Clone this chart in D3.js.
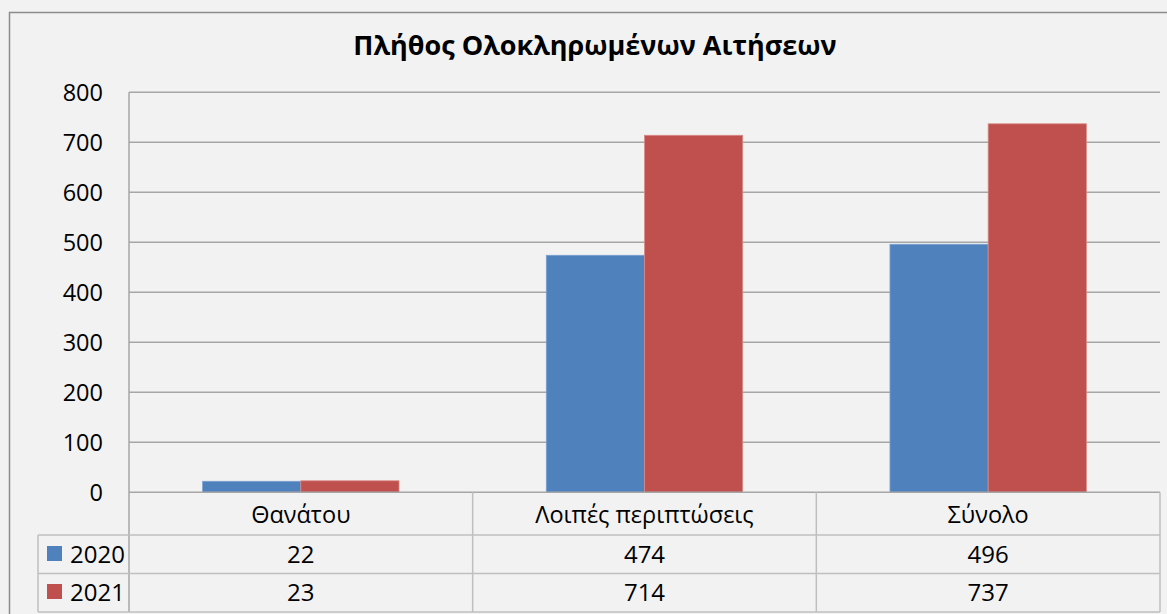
<!DOCTYPE html>
<html><head><meta charset="utf-8">
<script src="https://cdn.jsdelivr.net/npm/d3@7"></script>
<style>
html,body{margin:0;padding:0;background:#f2f2f2;}
svg{display:block;font-family:"Open Sans",sans-serif;}
</style></head>
<body>
<svg id="c" width="1167" height="614"></svg>
<script>
const title = "Πλήθος Ολοκληρωμένων Αιτήσεων";
const categories = ["Θανάτου", "Λοιπές περιπτώσεις", "Σύνολο"];
const seriesNames = ["2020", "2021"];
const values2020 = [22, 474, 496];
const values2021 = [23, 714, 737];
const yTicks = [0, 100, 200, 300, 400, 500, 600, 700, 800];
const colors = ["#4f81bd", "#c0504d"];

(function () {
const series = [values2020, values2021];
const svg = d3.select("#c");

// outer chart border
svg.append("rect").attr("x", 9.5).attr("y", 12.5).attr("width", 1200).attr("height", 700)
  .attr("fill", "#f2f2f2").attr("stroke", "#8c8c8c").attr("stroke-width", 1.5);

const pLeft = 129, pRight = 1160, pTop = 92.3, pBottom = 492.3;
const x = d3.scaleBand().domain(categories).range([pLeft, pRight]).paddingInner(0).paddingOuter(0);
const y = d3.scaleLinear().domain([0, 800]).range([pBottom, pTop]);
const barW = x.bandwidth() / 3.5;
const xs = d3.scaleBand().domain(seriesNames).range([0, 2 * barW]);

// title
svg.append("text").attr("x", 595).attr("y", 55).attr("text-anchor", "middle")
  .attr("font-weight", "bold").attr("font-size", 27).attr("fill", "#000").text(title);

// gridlines
svg.append("g").selectAll("line").data(yTicks.filter(d => d > 0)).join("line")
  .attr("x1", pLeft).attr("x2", pRight).attr("y1", d => y(d)).attr("y2", d => y(d))
  .attr("stroke", "#a6a6a6").attr("stroke-width", 1.5);

// y axis labels
const yAxis = d3.axisLeft(y).tickValues(yTicks).tickSize(0).tickPadding(26);
const ga = svg.append("g").attr("transform", `translate(${pLeft},0)`).call(yAxis);
ga.select(".domain").remove();
ga.selectAll("text").attr("font-size", 23.5).attr("font-family", "Open Sans").attr("fill", "#000")
  .attr("dy", "0.36em");

// vertical axis line
svg.append("line").attr("x1", pLeft).attr("x2", pLeft).attr("y1", pTop).attr("y2", 612)
  .attr("stroke", "#a6a6a6").attr("stroke-width", 1.5);

// bars
series.forEach((vals, si) => {
  svg.append("g").selectAll("rect").data(vals).join("rect")
    .attr("x", (d, i) => x(categories[i]) + (x.bandwidth() - 2 * barW) / 2 + xs(seriesNames[si]))
    .attr("y", d => y(d)).attr("width", xs.bandwidth()).attr("height", d => pBottom - y(d))
    .attr("fill", colors[si]).attr("stroke", si === 0 ? "#7aa0d0" : "#d98b89").attr("stroke-width", 0.8);
});

// table
const tbl = svg.append("g").attr("stroke", "#bfbfbf").attr("stroke-width", 1.5);
tbl.append("line").attr("x1", pLeft).attr("x2", pRight).attr("y1", pBottom).attr("y2", pBottom).attr("stroke", "#a6a6a6");
[535, 573.5, 612].forEach(yy => tbl.append("line").attr("x1", 38).attr("x2", pRight).attr("y1", yy).attr("y2", yy));
tbl.append("line").attr("x1", 38).attr("x2", 38).attr("y1", 535).attr("y2", 612);
categories.forEach(c => {
  const xr = x(c) + x.bandwidth();
  tbl.append("line").attr("x1", xr).attr("x2", xr).attr("y1", pBottom).attr("y2", 612);
});

// category labels
svg.append("g").selectAll("text").data(categories).join("text")
  .attr("x", d => x(d) + x.bandwidth() / 2).attr("y", 522.5).attr("text-anchor", "middle")
  .attr("font-size", 23.5).attr("fill", "#000").text(d => d);

// rows
const rowBase = [562.5, 600.5];
series.forEach((vals, si) => {
  svg.append("rect").attr("x", 47).attr("y", rowBase[si] - 16.5).attr("width", 15).attr("height", 15)
    .attr("fill", colors[si]);
  svg.append("text").attr("x", 70).attr("y", rowBase[si]).attr("font-size", 24).attr("fill", "#000")
    .text(seriesNames[si]);
  svg.append("g").selectAll("text").data(vals).join("text")
    .attr("x", (d, i) => x(categories[i]) + x.bandwidth() / 2).attr("y", rowBase[si])
    .attr("text-anchor", "middle").attr("font-size", 24).attr("fill", "#000").text(d => d);
});
})();
</script>
</body></html>
